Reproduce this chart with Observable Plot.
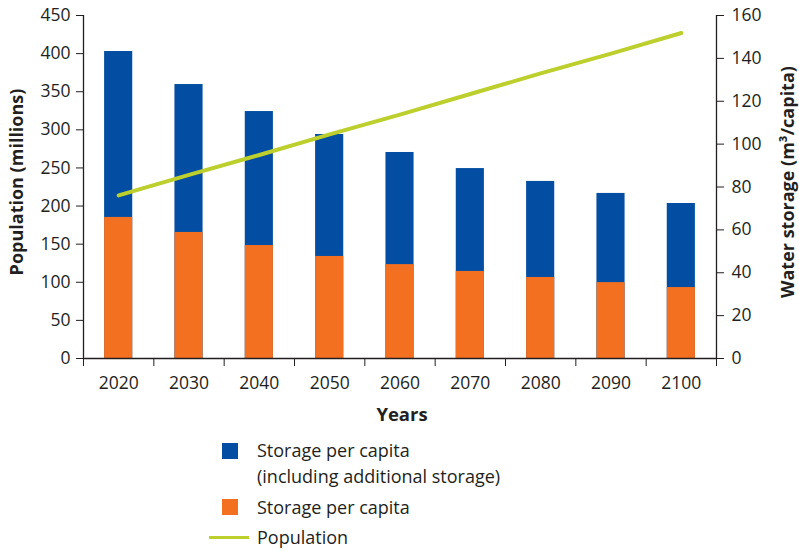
<!DOCTYPE html>
<html>
<head>
<meta charset="utf-8">
<script src="https://cdn.jsdelivr.net/npm/d3@7"></script>
<script src="https://cdn.jsdelivr.net/npm/@observablehq/plot@0.6"></script>
<style>
  html, body { margin: 0; padding: 0; background: #fff; }
  #wrap { position: relative; width: 799px; height: 551px; font-family: "Open Sans", sans-serif; color: #231f20; }
  .sw { position: absolute; width: 16px; height: 16px; }
  .lt { position: absolute; font-size: 18px; line-height: 26px; white-space: nowrap; }
</style>
</head>
<body>
<div id="wrap"></div>
<script>
// Data
const years = [2020, 2030, 2040, 2050, 2060, 2070, 2080, 2090, 2100];
const storageTotal = [143.2, 127.8, 115.2, 104.5, 96.1, 88.6, 82.6, 77.0, 72.3]; // m3/capita incl. additional storage
const storageBase = [65.8, 58.8, 52.7, 47.6, 43.8, 40.6, 37.8, 35.4, 33.1];      // m3/capita
const population = [214, 241, 267, 294, 320, 347, 374, 400, 427];                 // millions
const leftTicks = [0, 50, 100, 150, 200, 250, 300, 350, 400, 450];
const rightTicks = [0, 20, 40, 60, 80, 100, 120, 140, 160];
const legendLabels = ["Storage per capita\n(including additional storage)", "Storage per capita", "Population"];

const colBlue = "#034ea2", colOrange = "#f37021", colGreen = "#bccf2c", ink = "#231f20";
const leftMax = 450, rightMax = 160, k = leftMax / rightMax;
const boundaries = [2015, ...years.map(y => y + 5)];

const rows = years.map((y, i) => ({year: y, total: storageTotal[i], base: storageBase[i], pop: population[i]}));

const chart = Plot.plot({
  width: 799,
  height: 430,
  marginLeft: 83,
  marginRight: 83,
  marginTop: 15,
  marginBottom: 72,
  style: {fontFamily: "'Open Sans', sans-serif", fontSize: "17.5px", color: ink, background: "#fff"},
  x: {domain: [2015, 2105], axis: null},
  y: {domain: [0, leftMax], axis: null},
  marks: [
    Plot.rectY(rows, {x1: d => d.year - 2, x2: d => d.year + 2, y1: 0, y2: d => d.total * k, fill: colBlue}),
    Plot.rectY(rows, {x1: d => d.year - 2, x2: d => d.year + 2, y1: 0, y2: d => d.base * k, fill: colOrange}),
    Plot.line(rows, {x: "year", y: "pop", stroke: colGreen, strokeWidth: 4, strokeLinecap: "round"}),
    Plot.ruleY([0], {stroke: ink, strokeWidth: 1.3}),
    Plot.ruleX([2015, 2105], {y1: 0, y2: leftMax, stroke: ink, strokeWidth: 1.3}),
    Plot.axisY(leftTicks, {anchor: "left", tickSize: 7, tickPadding: 6, stroke: ink, label: null, fill: ink}),
    Plot.axisY(rightTicks.map(v => v * k), {anchor: "right", tickSize: 7, tickPadding: 8, stroke: ink, label: null, fill: ink,
      tickFormat: v => String(Math.round(v / k))}),
    Plot.axisX(years, {anchor: "bottom", tickSize: 0, tickPadding: 18, label: null, tickFormat: d => String(d), fill: ink}),
    Plot.axisX(boundaries, {anchor: "bottom", tickSize: 8, stroke: ink, label: null, tickFormat: () => ""}),
    Plot.text(["Population (millions)"], {frameAnchor: "left", textAnchor: "middle", lineAnchor: "middle", rotate: -90, dx: -66, dy: -5, fontWeight: "bold", fontSize: 18, fill: ink}),
    Plot.text(["Water storage (m³/capita)"], {frameAnchor: "right", textAnchor: "middle", lineAnchor: "middle", rotate: -90, dx: 72, dy: -5, fontWeight: "bold", fontSize: 18, fill: ink}),
    Plot.text(["Years"], {frameAnchor: "bottom", textAnchor: "middle", lineAnchor: "middle", dx: 2, dy: 57, fontWeight: "bold", fontSize: 18.5, fill: ink})
  ]
});
const wrap = document.getElementById("wrap");
wrap.appendChild(chart);

// Legend (HTML below the SVG)
function add(html, cls, style) {
  const el = document.createElement("div");
  el.className = cls;
  Object.assign(el.style, style);
  el.innerHTML = html;
  wrap.appendChild(el);
}
add("", "sw", {left: "222px", top: "443px", background: colBlue});
add(legendLabels[0].replace("\n", "<br>"), "lt", {left: "257px", top: "437px"});
add("", "sw", {left: "222px", top: "499px", background: colOrange});
add(legendLabels[1], "lt", {left: "257px", top: "494px"});
add("", "sw", {left: "209px", top: "536px", width: "40px", height: "3px", background: colGreen});
add(legendLabels[2], "lt", {left: "257px", top: "524px"});
</script>
</body>
</html>
